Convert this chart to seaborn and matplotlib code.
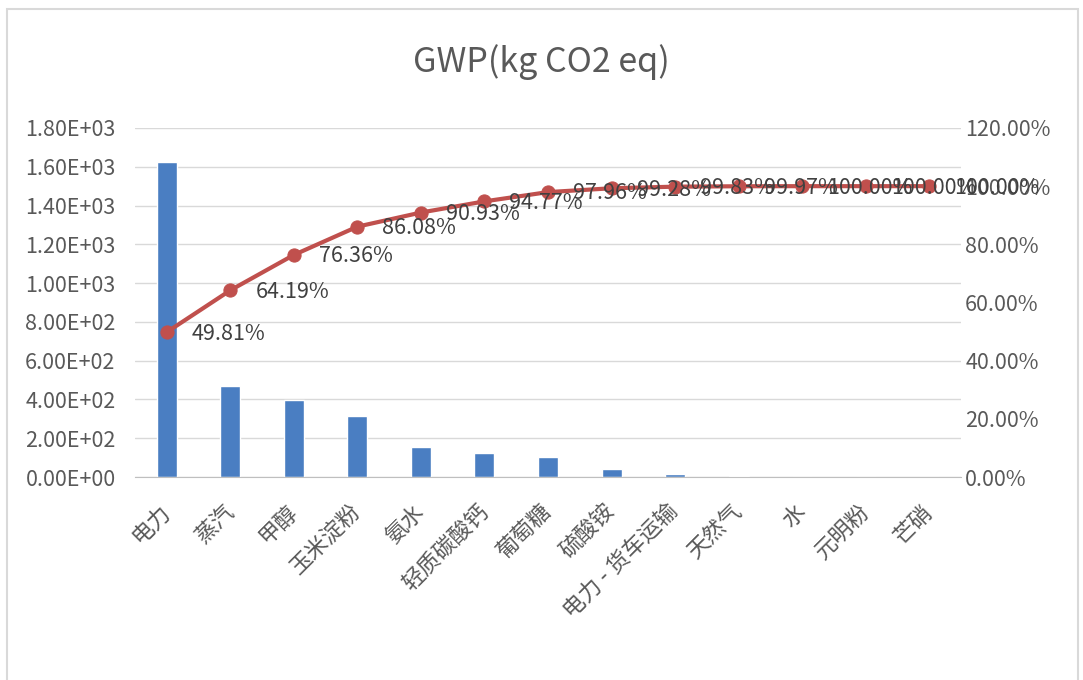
import numpy as np
import pandas as pd
import seaborn as sns
import matplotlib
matplotlib.use('Agg')
from matplotlib import pyplot as plt
from matplotlib import transforms
from matplotlib.ticker import FuncFormatter, MultipleLocator

categories = ['电力', '蒸汽', '甲醇', '玉米淀粉', '氨水', '轻质碳酸钙', '葡萄糖',
              '硫酸铵', '电力 - 货车运输', '天然气', '水', '元明粉', '芒硝']
gwp = [1624, 469, 395, 317, 155, 125, 104, 40, 17, 4.6, 1.0, 0.1, 0.05]
cum_pct = [49.81, 64.19, 76.36, 86.08, 90.93, 94.77, 97.96,
           99.28, 99.83, 99.97, 100.00, 100.00, 100.00]

sns.set_style('white')
plt.rcParams['font.family'] = ['Noto Sans CJK SC', 'DejaVu Sans']

bar_color = '#4A7EC2'
line_color = '#C0504D'
text_color = '#595959'

df = pd.DataFrame({'item': categories, 'gwp': gwp, 'cum': np.array(cum_pct) / 100})

fig = plt.figure(figsize=(10.83, 6.8), dpi=100)
ax = fig.add_axes([135 / 1083, 1 - 477 / 680, (961 - 135) / 1083, (477 - 128) / 680])

sns.barplot(data=df, x='item', y='gwp', color=bar_color, width=0.315,
            saturation=1, ax=ax)
ax.set_ylim(0, 1800)
ax.set_xlim(-0.5, len(categories) - 0.5)
ax.yaxis.set_major_locator(MultipleLocator(200))
ax.yaxis.set_major_formatter(FuncFormatter(lambda v, p: f"{v:.2E}"))
ax.grid(axis='y', color='#D9D9D9', linewidth=1)
ax.set_axisbelow(True)
for s in ['top', 'left', 'right']:
    ax.spines[s].set_visible(False)
ax.spines['bottom'].set_color('#BFBFBF')
ax.set(xlabel=None, ylabel=None)
ax.tick_params(axis='y', length=0, pad=14, labelsize=15.5, labelcolor=text_color)
ax.tick_params(axis='x', length=0, pad=16.5, labelsize=16, labelcolor=text_color)

# rotated category labels, nudged right a bit like excel does
shift = transforms.ScaledTranslation(8 / 100, 0, fig.dpi_scale_trans)
for lbl in ax.get_xticklabels():
    lbl.set_rotation(45)
    lbl.set_ha('right')
    lbl.set_transform(lbl.get_transform() + shift)

# cumulative percentage on the secondary axis
ax2 = ax.twinx()
sns.lineplot(x=np.arange(len(categories)), y=df['cum'], ax=ax2, color=line_color,
             linewidth=3, marker='o', markersize=9.5, markeredgecolor=line_color)
ax2.set_ylim(0, 1.2)
ax2.yaxis.set_major_locator(MultipleLocator(0.2))
ax2.yaxis.set_major_formatter(FuncFormatter(lambda v, p: f"{v * 100:.2f}%"))
ax2.tick_params(axis='y', length=0, pad=3, labelsize=15.5, labelcolor=text_color)
ax2.set(ylabel=None)
for s in ax2.spines.values():
    s.set_visible(False)

for i, c in enumerate(cum_pct):
    ax2.annotate(f"{c:.2f}%", (i, c / 100), xytext=(18, -1), textcoords='offset points',
                 ha='left', va='center', fontsize=15.5, color='#404040')

fig.suptitle('GWP(kg CO2 eq)', y=1 - 62 / 680, va='center', fontsize=24.5, color=text_color)

# chart frame
fig.add_artist(plt.Rectangle((7 / 1083, -0.05), (1078 - 7) / 1083, 1.05 - 9 / 680,
                             transform=fig.transFigure, fill=False,
                             edgecolor='#D9D9D9', linewidth=1.5))

plt.savefig('out.png', dpi=100)
plt.close()
